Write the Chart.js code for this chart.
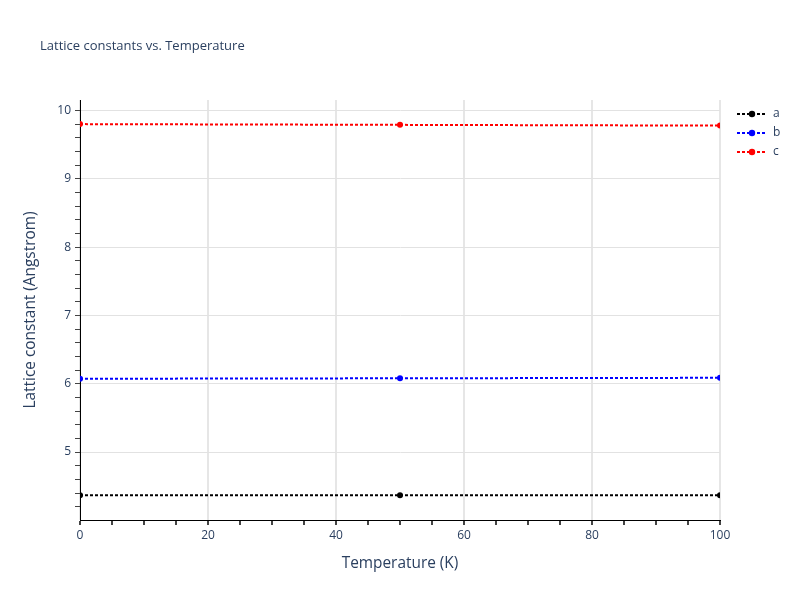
<!DOCTYPE html>
<html>
<head>
<meta charset="utf-8">
<script src="https://cdn.jsdelivr.net/npm/chart.js@4"></script>
<style>
html,body{margin:0;padding:0;background:#fff;}
#wrap{width:800px;height:600px;position:relative;}
</style>
</head>
<body>
<div id="wrap"><canvas id="c"></canvas></div>
<script>
const temperatures = [0, 50, 100];
const seriesA = [4.367, 4.369, 4.369];
const seriesB = [6.073, 6.080, 6.087];
const seriesC = [9.802, 9.791, 9.780];
const seriesNames = ['a', 'b', 'c'];
const seriesColors = ['#000000', '#0000ff', '#ff0000'];
const xMajorTicks = [0, 20, 40, 60, 80, 100];
const yMajorTicks = [5, 6, 7, 8, 9, 10];
const chartTitle = 'Lattice constants vs. Temperature';
const xTitle = 'Temperature (K)';
const yTitle = 'Lattice constant (Angstrom)';

const TXT = '#2a3f5f';
const FONT = '"Open Sans", "Noto Sans", sans-serif';

function mkDataset(name, values, color) {
  return {
    label: name,
    data: temperatures.map((t, i) => ({x: t, y: values[i]})),
    borderColor: color,
    backgroundColor: color,
    pointBackgroundColor: color,
    pointBorderColor: color,
    borderWidth: 2,
    borderDash: [3, 2],
    pointRadius: 3,
    pointBorderWidth: 0,
    tension: 0,
    clip: 0
  };
}

const isMajor = (v, list) => list.some(m => Math.abs(m - v) < 1e-6);

const titleLegendPlugin = {
  id: 'titleLegend',
  afterDraw(chart) {
    const ctx = chart.ctx;
    ctx.save();
    ctx.fillStyle = TXT;
    ctx.font = '13px ' + FONT;
    ctx.textAlign = 'left';
    ctx.textBaseline = 'middle';
    ctx.fillText(chartTitle, 40, 46);
    chart.data.datasets.forEach((ds, i) => {
      const y = 114 + i * 19;
      ctx.strokeStyle = ds.borderColor;
      ctx.lineWidth = 2;
      ctx.setLineDash([3, 2]);
      ctx.beginPath();
      ctx.moveTo(737, y);
      ctx.lineTo(767, y);
      ctx.stroke();
      ctx.setLineDash([]);
      ctx.fillStyle = ds.borderColor;
      ctx.beginPath();
      ctx.arc(752, y, 3.2, 0, Math.PI * 2);
      ctx.fill();
      ctx.fillStyle = TXT;
      ctx.font = '12px ' + FONT;
      ctx.fillText(ds.label, 773, y);
    });
    ctx.restore();
  }
};

new Chart(document.getElementById('c'), {
  type: 'line',
  data: {
    datasets: [
      mkDataset(seriesNames[0], seriesA, seriesColors[0]),
      mkDataset(seriesNames[1], seriesB, seriesColors[1]),
      mkDataset(seriesNames[2], seriesC, seriesColors[2])
    ]
  },
  options: {
    responsive: true,
    maintainAspectRatio: false,
    animation: false,
    layout: {padding: {left: 0, top: 100, right: 80, bottom: 0}},
    plugins: {legend: {display: false}, title: {display: false}, tooltip: {enabled: false}},
    scales: {
      x: {
        type: 'linear',
        min: 0, max: 100,
        afterBuildTicks(scale) {
          const t = [];
          for (let v = 0; v <= 100; v += 5) t.push({value: v});
          scale.ticks = t;
        },
        afterFit(scale) { scale.height = 80; },
        ticks: {
          autoSkip: false, maxRotation: 0,
          color: TXT, font: {family: FONT, size: 12}, padding: 3,
          callback: (v) => isMajor(v, xMajorTicks) ? String(v) : ''
        },
        grid: {
          color: (c) => (c.tick && isMajor(c.tick.value, xMajorTicks)) ? '#e6e6e6' : 'rgba(0,0,0,0)',
          tickColor: '#444',
          tickLength: 5,
          lineWidth: 2
        },
        border: {display: true, color: '#000', width: 1},
        title: {display: true, text: xTitle, color: TXT, font: {family: FONT, size: 15.4}, padding: {top: 0, bottom: 27}}
      },
      y: {
        type: 'linear',
        min: 4.005, max: 10.155,
        afterBuildTicks(scale) {
          const t = [];
          for (let i = 21; i <= 50; i++) t.push({value: Math.round(i * 2) / 10});
          scale.ticks = t;
        },
        afterFit(scale) { scale.width = 80; },
        ticks: {
          autoSkip: false,
          color: TXT, font: {family: FONT, size: 12}, padding: 4,
          callback: (v) => isMajor(v, yMajorTicks) ? String(Math.round(v)) : ''
        },
        grid: {
          color: (c) => (c.tick && isMajor(c.tick.value, yMajorTicks)) ? '#e2e2e2' : 'rgba(0,0,0,0)',
          tickColor: '#444',
          tickLength: 5,
          lineWidth: 1
        },
        border: {display: true, color: '#000', width: 1},
        title: {display: true, text: yTitle, color: TXT, font: {family: FONT, size: 15.4}, padding: {top: 21, bottom: 0}}
      }
    }
  },
  plugins: [titleLegendPlugin]
});
</script>
</body>
</html>
